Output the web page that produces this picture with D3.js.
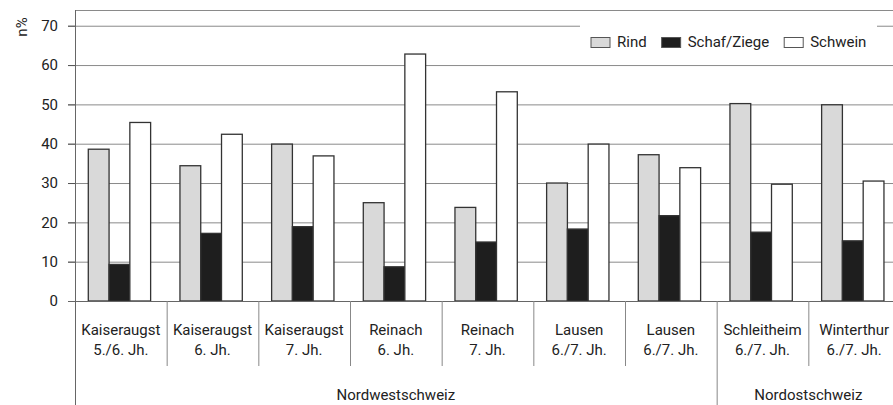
<!DOCTYPE html>
<html><head><meta charset="utf-8">
<script src="https://cdn.jsdelivr.net/npm/d3@7"></script>
<style>
html,body{margin:0;padding:0;background:#fff;}
svg{display:block;font-family:Roboto,"Open Sans",sans-serif;}
</style></head>
<body>
<svg id="c" width="893" height="405"></svg>
<script>
// ---- data ----
const sites   = ["Kaiseraugst","Kaiseraugst","Kaiseraugst","Reinach","Reinach","Lausen","Lausen","Schleitheim","Winterthur"];
const periods = ["5./6. Jh.","6. Jh.","7. Jh.","6. Jh.","7. Jh.","6./7. Jh.","6./7. Jh.","6./7. Jh.","6./7. Jh."];
const regions = ["Nordwestschweiz","Nordwestschweiz","Nordwestschweiz","Nordwestschweiz","Nordwestschweiz","Nordwestschweiz","Nordwestschweiz","Nordostschweiz","Nordostschweiz"];
const seriesNames = ["Rind","Schaf/Ziege","Schwein"];
const rind   = [38.6, 34.4, 39.9, 25.0, 23.8, 30.0, 37.2, 50.2, 49.9];
const schaf  = [9.3, 17.2, 18.9, 8.7, 15.0, 18.3, 21.7, 17.5, 15.3];
const schwein= [45.4, 42.4, 36.9, 62.8, 53.2, 39.9, 33.9, 29.7, 30.5];
const yTicks = [0,10,20,30,40,50,60,70];
const yLabel = "n%";

// ---- layout ----
const svg = d3.select("#c");
const plotL = 75, plotR = 900, plotT = 10, base = 301;
const colors = {"Rind":"#d9d9d9","Schaf/Ziege":"#1e1e1e","Schwein":"#ffffff"};
const values = {"Rind":rind,"Schaf/Ziege":schaf,"Schwein":schwein};
const idx = sites.map((d,i)=>i);

const y = d3.scaleLinear().domain([0,74]).range([base, plotT]);
const x0 = d3.scaleBand().domain(idx).range([plotL, plotR]).padding(0);
const bw = x0.bandwidth();
const x1 = d3.scaleBand().domain(seriesNames).range([bw*0.145, bw*0.825]).padding(0);

// gridlines
svg.append("g").selectAll("line").data(yTicks.filter(t=>t>0)).join("line")
  .attr("x1", plotL-7).attr("x2", 893).attr("y1", d=>y(d)+0.5).attr("y2", d=>y(d)+0.5)
  .attr("stroke","#8a8a8a").attr("stroke-width",1);
// top frame
svg.append("line").attr("x1",plotL).attr("x2",893).attr("y1",plotT+0.5).attr("y2",plotT+0.5)
  .attr("stroke","#8a8a8a").attr("stroke-width",1);

// legend background (covers gridline)
const lg = svg.append("g");
lg.append("rect").attr("x",580).attr("y",16).attr("width",297).attr("height",42).attr("fill","#fff");

// y axis
const yAxis = d3.axisLeft(y).tickValues(yTicks).tickSize(7).tickPadding(10).tickFormat(d3.format("d"));
const ga = svg.append("g").attr("transform",`translate(${plotL},0)`).call(yAxis);
ga.select(".domain").remove();
ga.selectAll(".tick line").attr("stroke","#555");
ga.selectAll(".tick text").attr("font-size",15).attr("fill","#222").attr("font-family","Roboto,sans-serif");
svg.append("text").attr("transform",`translate(27,27) rotate(-90)`).attr("text-anchor","middle")
  .attr("font-size",15).attr("fill","#222").text(yLabel);

// bars
const gBars = svg.append("g");
seriesNames.forEach(s=>{
  gBars.append("g").selectAll("rect").data(idx).join("rect")
    .attr("x", i=>x0(i)+x1(s))
    .attr("width", x1.bandwidth())
    .attr("y", i=>y(values[s][i]))
    .attr("height", i=>base - y(values[s][i]))
    .attr("fill", colors[s]).attr("stroke","#333").attr("stroke-width",1.3);
});

// left axis line and baseline
svg.append("line").attr("x1",plotL+0.5).attr("x2",plotL+0.5).attr("y1",plotT).attr("y2",405).attr("stroke","#666").attr("stroke-width",1);
svg.append("line").attr("x1",plotL-7).attr("x2",893).attr("y1",base+0.5).attr("y2",base+0.5).attr("stroke","#666").attr("stroke-width",1.2);

// category separators
svg.append("g").selectAll("line").data(idx.slice(1)).join("line")
  .attr("x1", i=>x0(i)+0.5).attr("x2", i=>x0(i)+0.5)
  .attr("y1", base).attr("y2", i=> regions[i]!==regions[i-1] ? 405 : 366)
  .attr("stroke","#888").attr("stroke-width",1);

// category labels
const gl = svg.append("g").attr("font-size",15).attr("fill","#222").attr("text-anchor","middle");
gl.selectAll("text.s").data(idx).join("text").attr("class","s")
  .attr("x", i=>x0(i)+bw/2).attr("y", 334.5).text(i=>sites[i]);
gl.selectAll("text.p").data(idx).join("text").attr("class","p")
  .attr("x", i=>x0(i)+bw/2).attr("y", 355).text(i=>periods[i]);

// region labels
const regionGroups = d3.groups(idx, i=>regions[i]);
gl.selectAll("text.r").data(regionGroups).join("text").attr("class","r")
  .attr("x", g=>(x0(g[1][0]) + x0(g[1][g[1].length-1]) + bw)/2)
  .attr("y", 399.5).text(g=>g[0]);

// legend
let lx = 591;
seriesNames.forEach(s=>{
  lg.append("rect").attr("x",lx).attr("y",37.5).attr("width",19).attr("height",10)
    .attr("fill",colors[s]).attr("stroke","#555").attr("stroke-width",1);
  const t = lg.append("text").attr("x",lx+26).attr("y",47).attr("font-size",15).attr("fill","#222").text(s);
  lx = lx + 26 + t.node().getComputedTextLength() + 15;
});
</script>
</body></html>
